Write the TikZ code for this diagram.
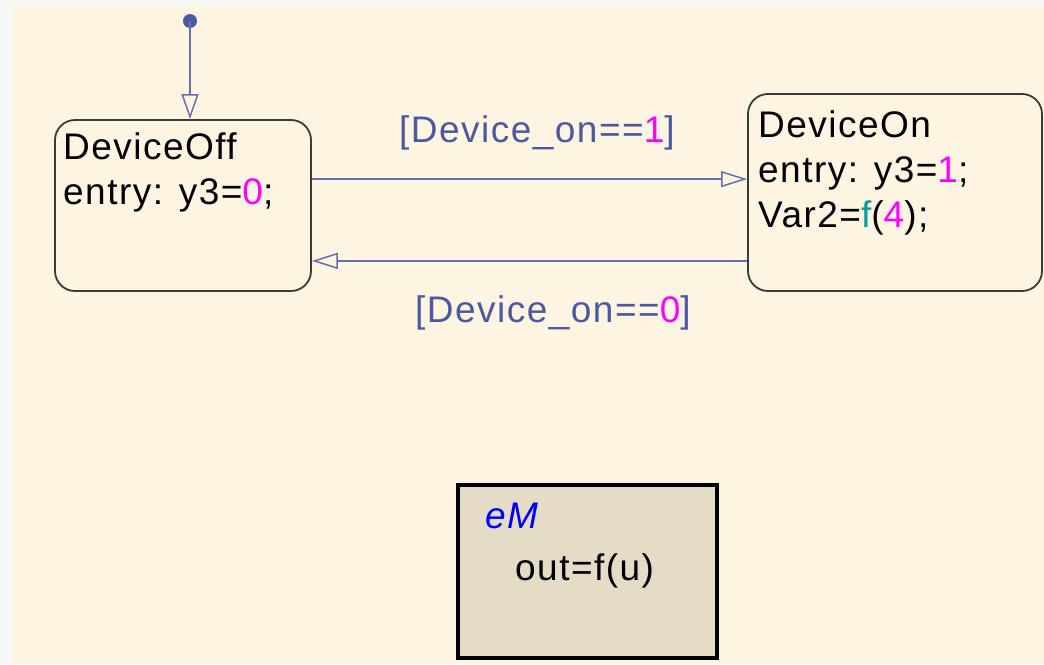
\documentclass[tikz,border=0pt]{standalone}
\usepackage{fontspec}
\setmainfont{Liberation Sans}[LetterSpace=4]
\usetikzlibrary{arrows.meta}
\definecolor{cream}{HTML}{FEF4E2}
\definecolor{strip}{HTML}{F6F6F6}
\definecolor{transblue}{HTML}{6470B0}
\definecolor{labblue}{HTML}{4B5AA0}
\definecolor{mag}{HTML}{FF00FF}
\definecolor{teal2}{HTML}{00A0A0}
\definecolor{emfill}{HTML}{E5DCC8}
\definecolor{stateline}{HTML}{3A3A3A}
\begin{document}
\begin{tikzpicture}[x=1pt,y=-1pt,
  every node/.style={font=\fontsize{37}{45}\selectfont},
  statebox/.style={draw=stateline, line width=1.8pt, rounded corners=20pt, inner sep=0pt},
  txt/.style={anchor=base west, inner sep=0pt, text=black},
  lab/.style={anchor=base west, inner sep=0pt, text=labblue},
  trans/.style={draw=transblue, line width=1.8pt, -{Triangle[open, length=26pt, width=16pt, line width=1.5pt]}},
  embox/.style={draw=black, fill=emfill, line width=4pt, inner sep=0pt}]
\useasboundingbox (0,0) rectangle (1044,664);
\fill[strip] (0,0) rectangle (1044,664);
\fill[cream] (12,5) rectangle (1044,664);
% states
\node[statebox, minimum width=256pt, minimum height=171pt] (off) at (183,205.5) {};
\node[statebox, minimum width=294pt, minimum height=197pt] (on) at (895,192.5) {};
\node[txt] (offname) at (63,159) {DeviceOff};
\node[txt] (offentry) at (63,204) {entry: y3=\textcolor{mag}{0};};
\node[txt] (onname) at (758,137) {DeviceOn};
\node[txt] (onentry) at (758,182) {entry: y3=\textcolor{mag}{1};};
\node[txt] (onvar) at (758,227) {Var2=\textcolor{teal2}{f}(\textcolor{mag}{4});};
% default transition
\node[circle, fill=labblue, inner sep=0pt, minimum size=14pt] (dot) at (190,21) {};
\draw[trans, -{Triangle[open, length=25pt, width=17pt, line width=1.5pt]}] (dot.center) -- (dot |- off.north);
% transitions
\draw[trans] ([yshift=-60pt]off.north east) -- ([yshift=-86pt]on.north west);
\draw[trans] ([yshift=31pt]on.south west) -- ([yshift=31pt]off.south east);
\node[lab] (l1) at (399,142) {[Device\_on==\textcolor{mag}{1}]};
\node[lab] (l0) at (415,322) {[Device\_on==\textcolor{mag}{0}]};
% embedded matlab block
\node[embox, minimum width=259pt, minimum height=173pt] (em) at (587.5,571.5) {};
\node[txt, text=blue] (emname) at (485,528) {\itshape eM};
\node[txt] (emcode) at (515,580) {out=f(u)};
\end{tikzpicture}
\end{document}
